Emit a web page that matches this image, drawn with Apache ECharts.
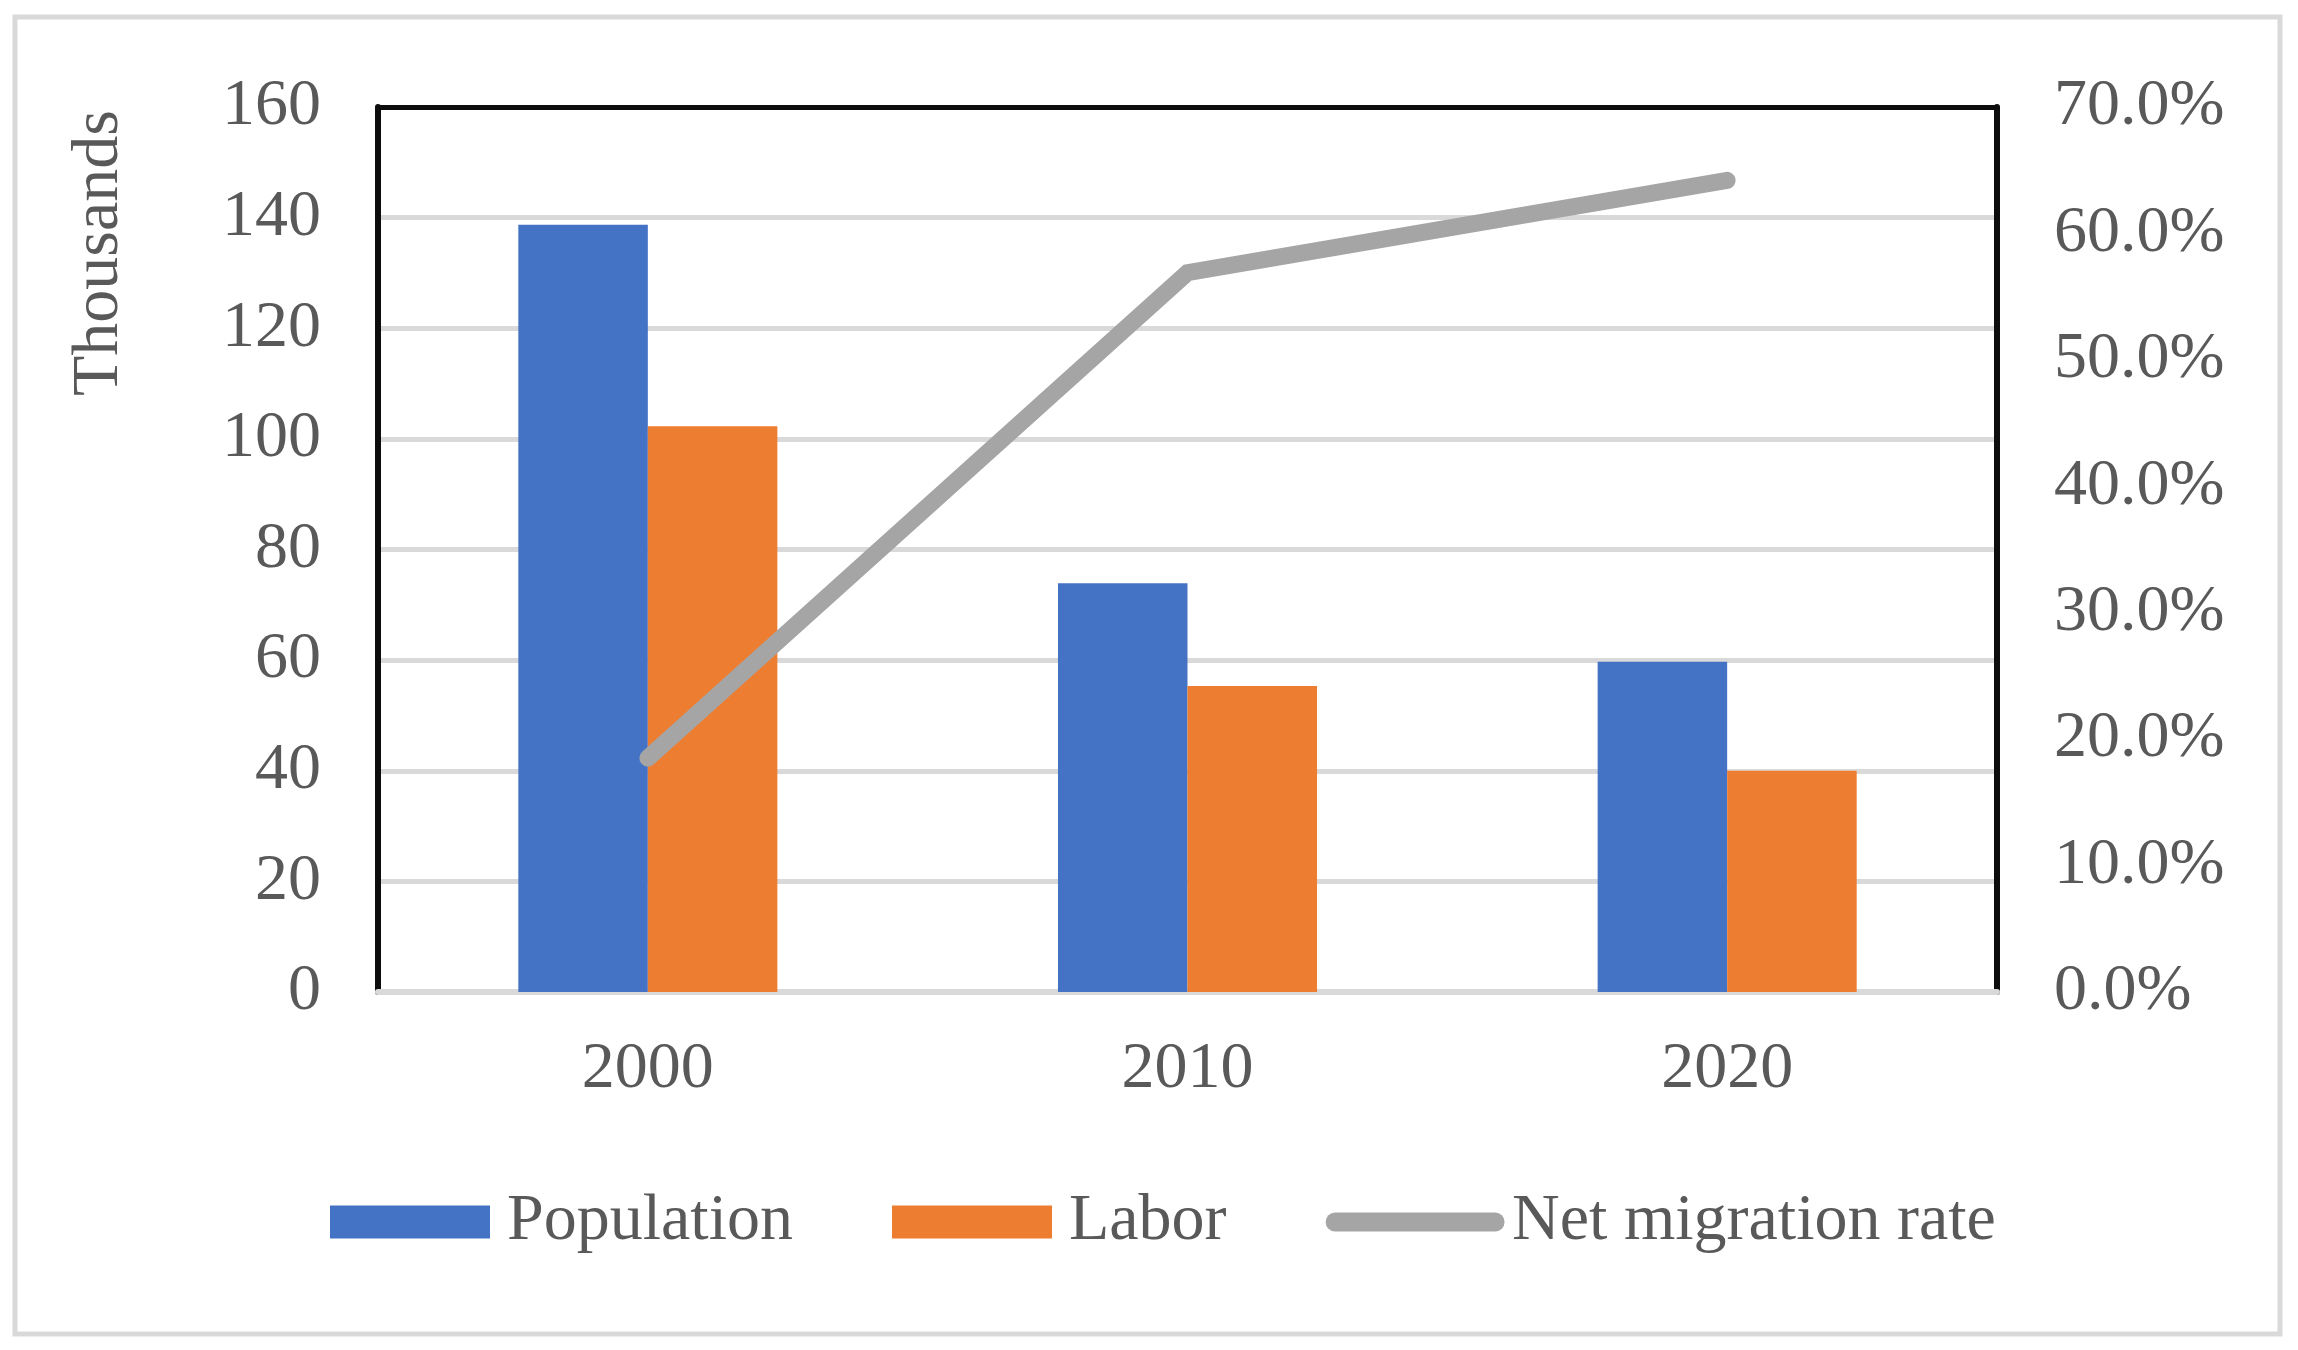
<!DOCTYPE html>
<html>
<head>
<meta charset="utf-8">
<script src="https://cdn.jsdelivr.net/npm/echarts@6/dist/echarts.min.js"></script>
<style>
html,body{margin:0;padding:0;background:#fff;}
#chart{width:2298px;height:1350px;}
</style>
</head>
<body>
<div id="chart"></div>
<script>
const categories = ['2000', '2010', '2020'];
const population = [138.7, 73.9, 59.7];
const labor = [102.3, 55.3, 40.0];
const netMigrationRate = [18.5, 56.9, 64.2];
const leftTicks = { min: 0, max: 160, interval: 20 };
const rightTicks = { min: 0, max: 70, interval: 10 };

const FONT = "'Liberation Serif', 'Times New Roman', serif";
const TXT = '#595959';
const GRID = '#d9d9d9';
const BLACK = '#0d0d0d';

const splitColors = [];
for (let v = leftTicks.min; v < leftTicks.max; v += leftTicks.interval) splitColors.push(GRID);
splitColors.push(BLACK);

const chart = echarts.init(document.getElementById('chart'));
chart.setOption({
  animation: false,
  backgroundColor: '#fff',
  graphic: [
    { type: 'rect', shape: { x: 15, y: 17, width: 2265, height: 1317 },
      style: { fill: 'none', stroke: GRID, lineWidth: 5 }, z: -10 },
    { type: 'text', x: 100, y: 253, rotation: Math.PI / 2,
      style: { text: 'Thousands', font: '66px ' + FONT, fill: TXT,
               align: 'center', verticalAlign: 'middle' } }
  ],
  grid: { left: 378, right: 301, top: 107, bottom: 358 },
  legend: {
    left: 325, top: 1184,
    itemWidth: 160, itemHeight: 33, itemGap: 99,
    textStyle: { fontFamily: FONT, fontSize: 66, color: TXT, padding: [0, 0, 0, 12] },
    data: [
      { name: 'Population', icon: 'rect' },
      { name: 'Labor', icon: 'rect' },
      { name: 'Net migration rate',
        itemStyle: { color: 'rgba(0,0,0,0)', borderWidth: 0, opacity: 0 },
        lineStyle: { width: 19, cap: 'round', color: '#a5a5a5' } }
    ]
  },
  xAxis: {
    type: 'category', data: categories,
    axisLine: { show: true, lineStyle: { color: GRID, width: 6 } },
    axisTick: { show: false },
    axisLabel: { fontFamily: FONT, fontSize: 66, color: TXT, margin: 45 }
  },
  yAxis: [
    {
      type: 'value', min: leftTicks.min, max: leftTicks.max, interval: leftTicks.interval,
      axisLine: { show: true, lineStyle: { color: BLACK, width: 6 } },
      axisTick: { show: false },
      splitLine: { show: true, lineStyle: { color: splitColors, width: 5 } },
      axisLabel: { fontFamily: FONT, fontSize: 66, color: TXT, margin: 57 }
    },
    {
      type: 'value', position: 'right',
      min: rightTicks.min, max: rightTicks.max, interval: rightTicks.interval,
      axisLine: { show: true, lineStyle: { color: BLACK, width: 6 } },
      axisTick: { show: false },
      splitLine: { show: false },
      axisLabel: { fontFamily: FONT, fontSize: 66, color: TXT, margin: 57,
                   formatter: v => v.toFixed(1) + '%' }
    }
  ],
  series: [
    { name: 'Population', type: 'bar', data: population, barGap: '0%', barCategoryGap: '52%',
      itemStyle: { color: '#4472c4' } },
    { name: 'Labor', type: 'bar', data: labor, barGap: '0%', barCategoryGap: '52%',
      itemStyle: { color: '#ed7d31' } },
    { name: 'Net migration rate', type: 'line', yAxisIndex: 1, data: netMigrationRate,
      symbol: 'none', lineStyle: { color: '#a5a5a5', width: 17, cap: 'round', join: 'miter' },
      itemStyle: { color: '#a5a5a5' } }
  ]
});
</script>
</body>
</html>
